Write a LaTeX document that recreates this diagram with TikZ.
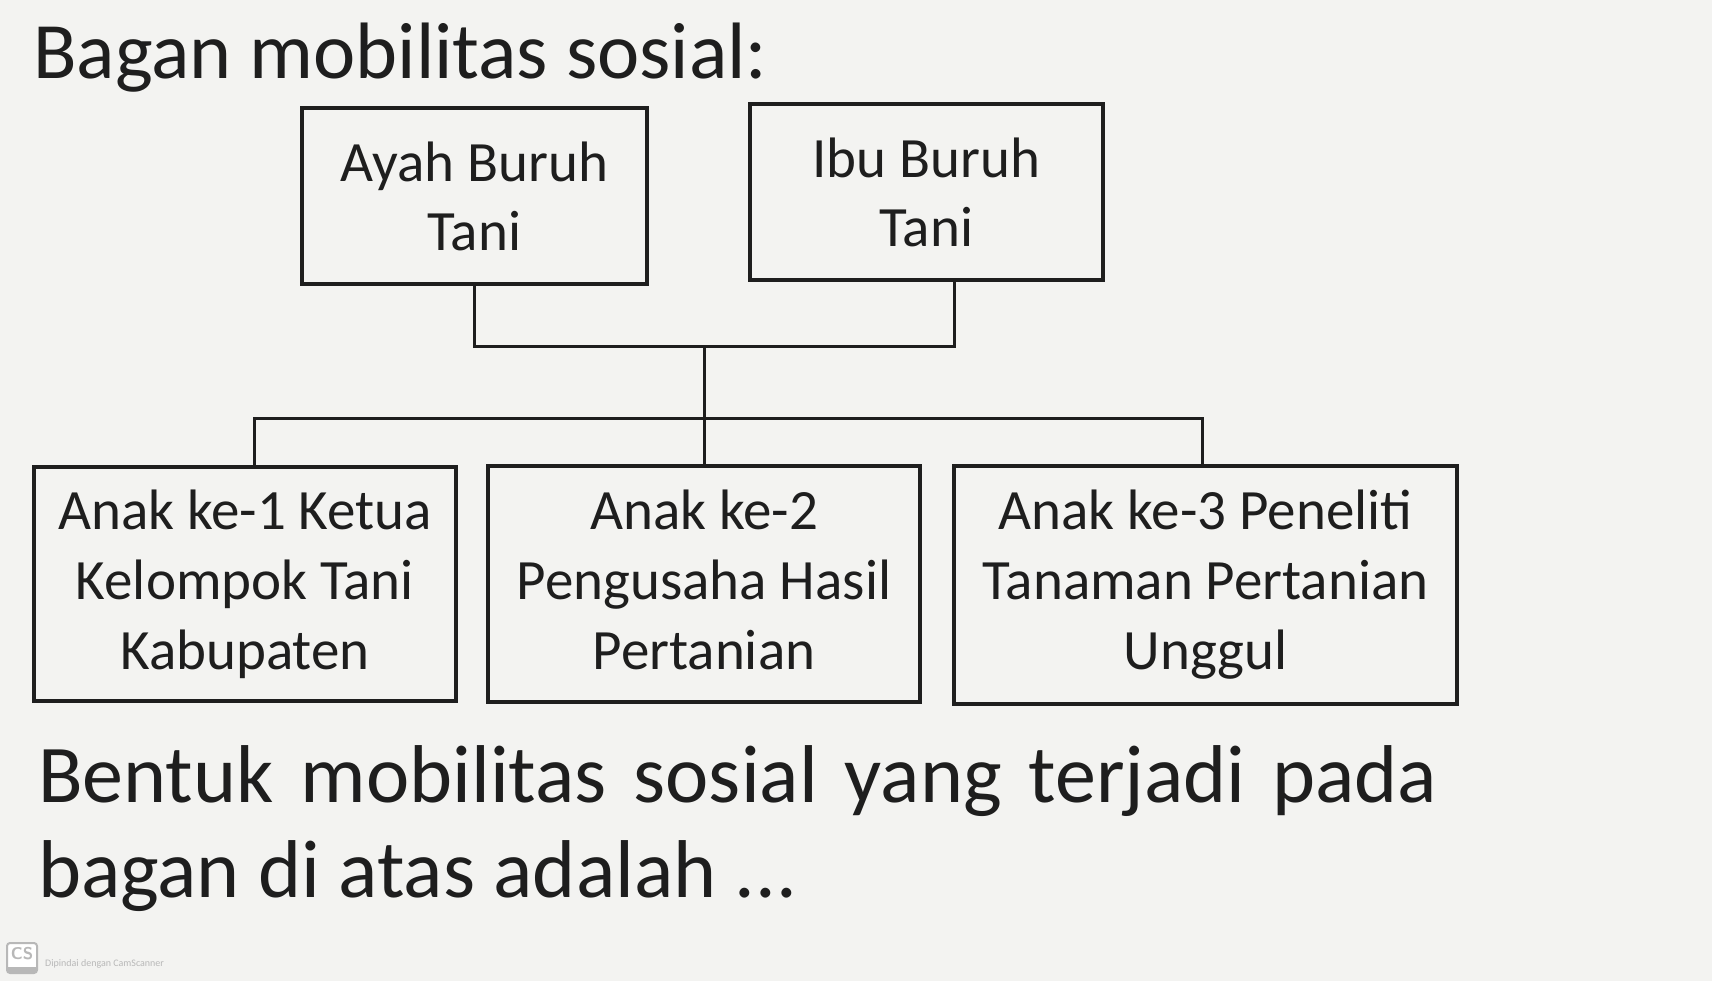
\documentclass[tikz,border=0pt]{standalone}
\usepackage{fontspec}
\setmainfont{Carlito}
\usetikzlibrary{positioning}
\definecolor{paper}{HTML}{F3F3F1}
\definecolor{ink}{HTML}{1E1E1E}
\definecolor{scan}{HTML}{B8B8B8}
\tikzset{
  kotak/.style={draw=ink, line width=3.2pt, align=center, inner sep=0pt, text=ink},
  atas/.style={kotak, font=\fontsize{57}{69}\selectfont, minimum height=176pt},
  bawah/.style={kotak, font=\fontsize{57}{70}\selectfont, minimum height=236pt},
  garis/.style={draw=ink, line width=3pt},
  teks/.style={anchor=base west, inner sep=0pt, text=ink},
}

\begin{document}
\begin{tikzpicture}[x=1pt,y=-1pt]
  % kertas hasil pindai
  \fill[paper] (0,0) rectangle (1712,981);
  \useasboundingbox (0,0) rectangle (1712,981);

  \node[teks, font=\fontsize{80}{90}\selectfont] (judul) at (33,79) {Bagan mobilitas sosial:};

  % orang tua
  \node[atas, minimum width=345pt] (ayah) at (474.5,196) {Ayah Buruh\\Tani};
  \node[atas, minimum width=353pt] (ibu) at (926.5,192) {Ibu Buruh\\Tani};

  % anak-anak
  \node[bawah, minimum width=422pt, minimum height=234pt] (anak1) at (245,584) {Anak ke-1 Ketua\\Kelompok Tani\\Kabupaten};
  \node[bawah, minimum width=432pt] (anak2) at (704,584) {Anak ke-2\\Pengusaha Hasil\\Pertanian\vphantom{p}};
  \node[bawah, minimum width=503pt, minimum height=238pt] (anak3) at (1205.5,585) {Anak ke-3 Peneliti\\Tanaman Pertanian\\Unggul};

  % garis keturunan
  \coordinate (gabung) at (704,346);
  \coordinate (cabang) at (704,418);
  \draw[garis] (ayah.south) |- (gabung) -| ([xshift=28pt]ibu.south);
  \draw[garis] (gabung) -- (anak2.north);
  \draw[garis] ([xshift=9pt]anak1.north) |- (cabang) -| ([xshift=-3pt]anak3.north);

  \node[teks, font=\fontsize{82}{95}\selectfont, execute at begin node={\spaceskip=27pt}] (soal1) at (38,802) {Bentuk mobilitas sosial yang terjadi pada};
  \node[teks, font=\fontsize{82}{95}\selectfont] (soal2) at (38,897) {bagan di atas adalah ...};

  % tanda air
  \draw[scan, line width=2pt, fill=white, rounded corners=3pt] (7,943) rectangle (37,973);
  \fill[scan] (7,967) rectangle (37,973);
  \node[text=scan, font=\sffamily\bfseries\fontsize{17}{17}\selectfont, inner sep=0pt] (logo) at (22,954) {CS};
  \node[teks, text=scan, font=\fontsize{10}{10}\selectfont] (merek) at (45,966) {Dipindai dengan CamScanner};
\end{tikzpicture}
\end{document}
